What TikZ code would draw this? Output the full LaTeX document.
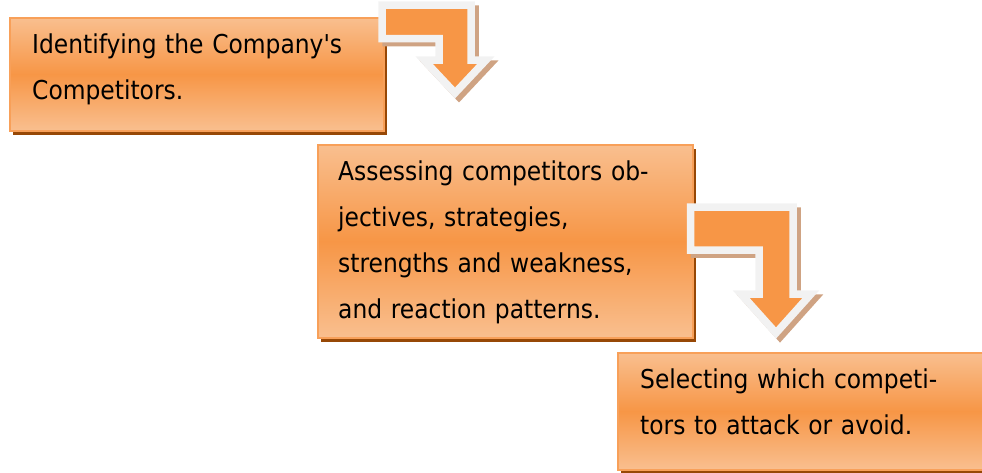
\documentclass[tikz,border=0pt]{standalone}
\usepackage{fontspec}
\setmainfont{DejaVu Sans Condensed}
\usepackage{tikz}
\usepackage{xcolor}
\usetikzlibrary{shapes,arrows,positioning,calc,shadows}

\definecolor{boxlight}{HTML}{F9BF8F}
\definecolor{boxorange}{HTML}{F79646}
\definecolor{boxline}{HTML}{F8A059}
\definecolor{boxshadow}{HTML}{974806}
\definecolor{arrowwhite}{HTML}{F2F2F2}
\definecolor{arrowshadow}{HTML}{CFA383}

\begin{document}
\begin{tikzpicture}[
        x=1pt, y=-1pt,
        box/.style={rectangle, draw=boxline, line width=1.5pt, anchor=north west, inner sep=0pt,
            top color=boxlight, bottom color=boxlight, middle color=boxorange,
            drop shadow={shadow xshift=3pt, shadow yshift=-4pt, fill=boxshadow, opacity=1}},
        txt/.style={anchor=base west, inner sep=0pt, text width=360pt, align=left,
            font=\fontsize{26}{46}\selectfont},
        bent/.style={draw=arrowwhite, fill=boxorange, line width=7.5pt, line join=miter,
            preaction={draw=arrowshadow, fill=arrowshadow, line width=7.5pt,
                transform canvas={shift={(4pt,-4pt)}}}}
    ]
        \useasboundingbox (0,0) rectangle (982,472);

        \node[box, minimum width=374pt, minimum height=113pt] (ident) at (9,17) {};
        \node[box, minimum width=375pt, minimum height=193pt] (assess) at (317,144) {};
        \node[box, minimum width=375pt, minimum height=117pt] (select) at (617,352) {};

        \node[txt] (identtext) at ($(ident.north west)+(23,36)$) {Identifying the Company\textquotesingle s\\Competitors.};
        \node[txt] (assesstext) at ($(assess.north west)+(21,36)$) {Assessing competitors ob-\\jectives, strategies,\\strengths and weakness,\\and reaction patterns.};
        \node[txt] (selecttext) at ($(select.north west)+(23,36)$) {Selecting which competi-\\tors to attack or avoid.};

        % bent arrows between the steps
        \draw[bent] (382,5) -- (471,5) -- (471,60) -- (486,60) -- (455,93) -- (424,60)
            -- (439,60) -- (439,38.5) -- (382,38.5) -- cycle;
        \draw[bent] (690.5,207) -- (793,207) -- (793,294) -- (811,294) -- (776,333) -- (741,294)
            -- (759,294) -- (759,250) -- (690.5,250) -- cycle;
    \end{tikzpicture}
\end{document}
